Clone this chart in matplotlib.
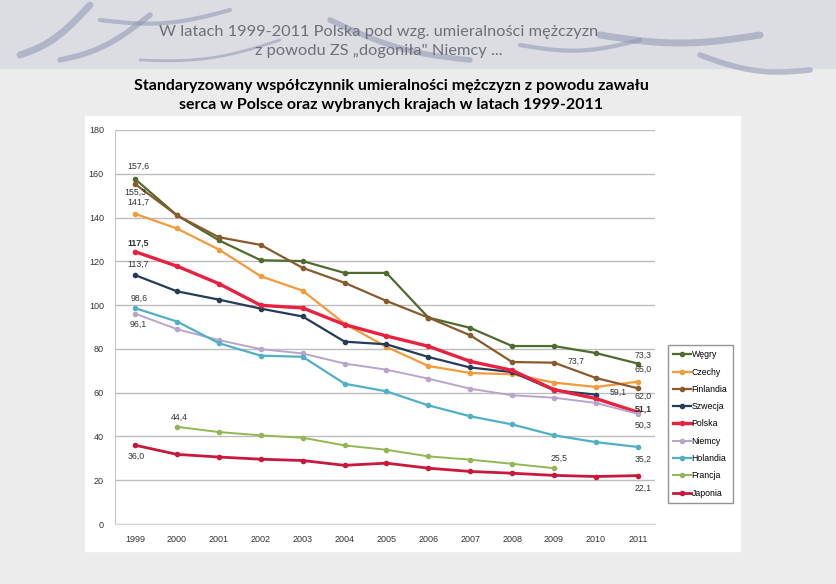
import matplotlib
matplotlib.use("Agg")
import matplotlib.pyplot as plt
import numpy as np

years = list(range(1999, 2012))

wegry = [157.6, 141.0, 129.6, 120.5, 120.1, 114.7, 114.7, 94.3, 89.6, 81.3, 81.3, 78.1, 73.3]
czechy = [141.7, 135.0, 125.4, 113.2, 106.6, 91.5, 80.9, 72.2, 69.0, 68.4, 64.6, 62.6, 65.0]
finlandia = [155.3, 141.0, 131.0, 127.5, 117.0, 110.2, 101.9, 94.3, 86.2, 74.0, 73.7, 66.7, 62.0]
szwecja = [113.7, 106.3, 102.5, 98.4, 94.8, 83.3, 82.1, 76.3, 71.5, 69.4, 61.1, 59.1, None]
polska = [124.4, 117.8, 109.8, 99.9, 98.7, 91.1, 85.9, 81.2, 74.3, 70.2, 61.4, 57.3, 51.1]
niemcy = [96.1, 89.0, 84.0, 79.9, 77.9, 73.3, 70.5, 66.4, 61.8, 58.8, 57.7, 55.3, 50.3]
holandia = [98.6, 92.5, 82.6, 76.9, 76.4, 64.1, 60.6, 54.2, 49.2, 45.5, 40.5, 37.4, 35.2]
francja = [None, 44.4, 42.0, 40.5, 39.4, 35.9, 33.9, 30.9, 29.4, 27.5, 25.5, None, None]
japonia = [36.0, 31.8, 30.6, 29.6, 29.0, 26.8, 27.8, 25.5, 24.0, 23.2, 22.2, 21.7, 22.1]

names = ["Węgry", "Czechy", "Finlandia", "Szwecja", "Polska", "Niemcy", "Holandia", "Francja", "Japonia"]
series = [wegry, czechy, finlandia, szwecja, polska, niemcy, holandia, francja, japonia]
colors = ["#4f6b2e", "#f39a3c", "#8a5a2c", "#243b5a", "#e8213f", "#b9a4cc", "#4fb0c6", "#93b752", "#c8183c"]
widths = [1.6, 1.6, 1.6, 1.6, 2.4, 1.4, 1.6, 1.4, 2.0]

# labels: (series index, year, text, dx, dy, weight)
labels = [
    (0, 1999, "157,6", 2, 9, "normal"),
    (2, 1999, "155,3", 0, -6, "normal"),
    (1, 1999, "141,7", 2, 8, "normal"),
    (4, 1999, "117,5", 2, 6, "bold"),
    (3, 1999, "113,7", 2, 8, "normal"),
    (6, 1999, "98,6", 3, 7, "normal"),
    (5, 1999, "96,1", 2, -8, "normal"),
    (8, 1999, "36,0", 1, -8, "normal"),
    (7, 2000, "44,4", 2, 7, "normal"),
    (2, 2009, "73,7", 16, 1, "normal"),
    (3, 2010, "59,1", 16, 2, "normal"),
    (7, 2009, "25,5", 4, 7, "normal"),
    (0, 2011, "73,3", 4, 6, "normal"),
    (1, 2011, "65,0", 4, 9, "normal"),
    (2, 2011, "62,0", 4, -5.5, "normal"),
    (4, 2011, "51,1", 4, 2.5, "bold"),
    (5, 2011, "50,3", 4, -8, "normal"),
    (6, 2011, "35,2", 4, -9, "normal"),
    (8, 2011, "22,1", 4, -9, "normal"),
]

W, H = 837, 584
fig = plt.figure(figsize=(W / 100, H / 100), dpi=100)
fig.patch.set_facecolor("#ececec")

# banner
bg = fig.add_axes([0, 0, 1, 1], zorder=-5)
bg.set_xlim(0, W)
bg.set_ylim(H, 0)
bg.axis("off")
bg.add_patch(plt.Rectangle((0, 0), W, 68, color="#dcdde3", zorder=0))
t = np.linspace(0, 1, 50)
for x0, y0, x1, y1, lw in [(20, 55, 90, 5, 5), (60, 60, 150, 15, 4), (100, 20, 230, 10, 3),
                           (330, 20, 470, 60, 4), (520, 45, 640, 40, 3), (600, 35, 760, 35, 5),
                           (700, 55, 810, 70, 4), (140, 60, 280, 40, 2)]:
    xs = x0 + (x1 - x0) * t
    ys = y0 + (y1 - y0) * t + 8 * np.sin(np.pi * t)
    bg.plot(xs, ys, color="#8d94b0", lw=lw, alpha=0.55, solid_capstyle="round")
bg.add_patch(plt.Rectangle((85, 116), 655, 435, color="white", zorder=1))

fig.text(379 / W, 1 - 32 / H, "W latach 1999-2011 Polska pod wzg. umieralności mężczyzn",
         ha="center", va="center", fontsize=11.8, color="#6f6f78", family="Lato")
fig.text(379 / W, 1 - 51 / H, "z powodu ZS „dogoniła\" Niemcy ...",
         ha="center", va="center", fontsize=11.8, color="#6f6f78", family="Lato")
fig.text(391 / W, 1 - 86 / H, "Standaryzowany współczynnik umieralności mężczyzn z powodu zawału",
         ha="center", va="center", fontsize=11.5, color="black", family="Lato", weight="bold")
fig.text(391 / W, 1 - 105 / H, "serca w Polsce oraz wybranych krajach w latach 1999-2011",
         ha="center", va="center", fontsize=11.5, color="black", family="Lato", weight="bold")

ax = fig.add_axes([115 / W, 1 - 524 / H, 540 / W, 394 / H])
ax.set_facecolor("white")
for i, (nm, s) in enumerate(zip(names, series)):
    y = np.array([np.nan if v is None else v for v in s], dtype=float)
    ax.plot(years, y, color=colors[i], lw=widths[i], marker="o", ms=3, label=nm, zorder=3)

for si, yr, txt, dx, dy, wt in labels:
    v = series[si][years.index(yr)]
    ax.annotate(txt, (yr, v), xytext=(dx, dy), textcoords="offset points",
                ha="center", va="center", fontsize=6.3, color="#333333", weight=wt,
                family="Liberation Sans")

ax.set_xlim(1998.52, 2011.41)
ax.set_ylim(0, 180)
ax.set_yticks(range(0, 181, 20))
ax.set_xticks(years)
ax.grid(axis="y", color="#bdbdbd", lw=1)
ax.set_axisbelow(True)
for sp in ["top", "right"]:
    ax.spines[sp].set_visible(False)
ax.spines["left"].set_color("#c8c8c8")
ax.spines["bottom"].set_color("#d8d8d8")
ax.tick_params(length=0, labelsize=6.5, colors="#333333", pad=8)
for lb in ax.get_xticklabels() + ax.get_yticklabels():
    lb.set_family("Liberation Sans")

leg = ax.legend(loc="upper left", bbox_to_anchor=((668 - 115) / 540, 1 - (345 - 130) / 394),
                frameon=True, fancybox=False, borderpad=0.6, labelspacing=0.95,
                handlelength=2.0, handletextpad=0.1, borderaxespad=0,
                prop={"family": "Liberation Sans", "size": 6.3})
leg.get_frame().set_edgecolor("#7a7a7a")
leg.get_frame().set_linewidth(1)

plt.savefig("out.png", dpi=100)
